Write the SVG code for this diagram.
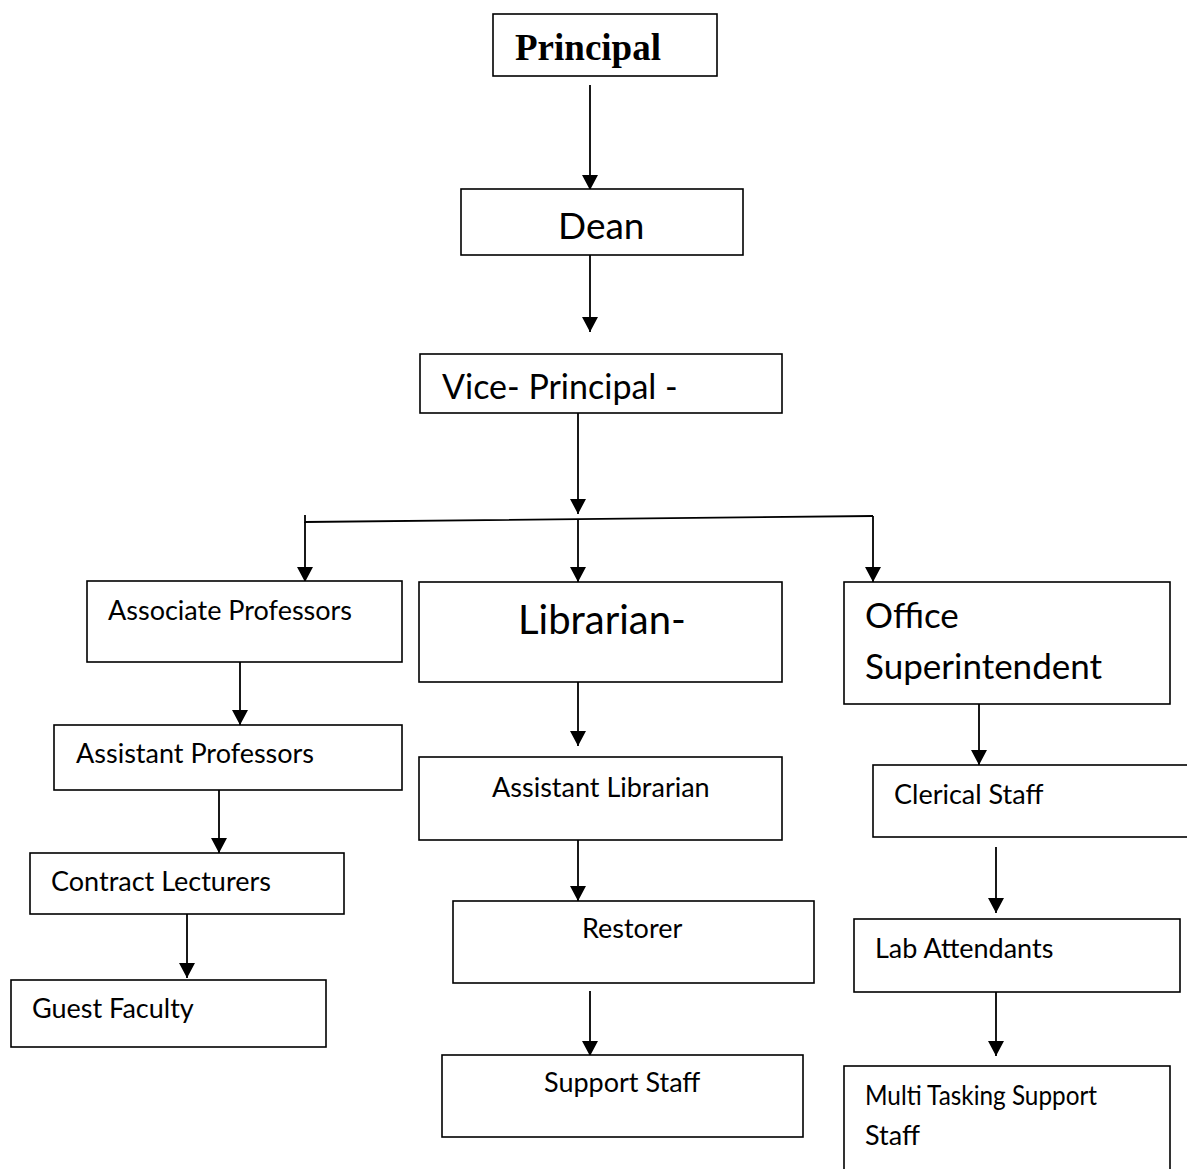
<svg xmlns="http://www.w3.org/2000/svg" width="1187" height="1169" viewBox="0 0 1187 1169">
<defs>
<style>
.box{fill:#fff;stroke:#000;stroke-width:1.6}
.t{font-family:Lato,"Open Sans","Liberation Sans",sans-serif;fill:#000;font-size:27px}
.big{font-size:37px}
.serif{font-family:"Liberation Serif","Times New Roman",serif;font-weight:bold;font-size:37px;fill:#000}
.c{fill:none;stroke:#000;stroke-width:1.8}
</style>
<marker id="ah" markerUnits="userSpaceOnUse" markerWidth="16" markerHeight="16" refX="15" refY="8" orient="auto">
<path d="M0,0 L15,8 L0,16 z" fill="#000"/>
</marker>
</defs>
<rect width="1187" height="1169" fill="#fff"/>
<g id="connectors">
<line class="c" x1="590" y1="85" x2="590" y2="190" marker-end="url(#ah)"/>
<line class="c" x1="590" y1="252" x2="590" y2="332" marker-end="url(#ah)"/>
<line class="c" x1="578" y1="413" x2="578" y2="514" marker-end="url(#ah)"/>
<polyline class="c" points="305,515 305,522 873,516"/>
<line class="c" x1="305" y1="522" x2="305" y2="582" marker-end="url(#ah)"/>
<line class="c" x1="578" y1="519" x2="578" y2="582" marker-end="url(#ah)"/>
<line class="c" x1="873" y1="516" x2="873" y2="582" marker-end="url(#ah)"/>
<line class="c" x1="240" y1="659" x2="240" y2="725" marker-end="url(#ah)"/>
<line class="c" x1="219" y1="787" x2="219" y2="853" marker-end="url(#ah)"/>
<line class="c" x1="187" y1="912" x2="187" y2="978" marker-end="url(#ah)"/>
<line class="c" x1="578" y1="680" x2="578" y2="746" marker-end="url(#ah)"/>
<line class="c" x1="578" y1="838" x2="578" y2="901" marker-end="url(#ah)"/>
<line class="c" x1="590" y1="991" x2="590" y2="1056" marker-end="url(#ah)"/>
<line class="c" x1="979" y1="699" x2="979" y2="765" marker-end="url(#ah)"/>
<line class="c" x1="996" y1="847" x2="996" y2="913" marker-end="url(#ah)"/>
<line class="c" x1="996" y1="992" x2="996" y2="1056" marker-end="url(#ah)"/>
</g>
<g id="principal"><rect class="box" x="493" y="14" width="224" height="62"/><text class="serif" x="515" y="60">Principal</text></g>
<g id="dean"><rect class="box" x="461" y="189" width="282" height="66"/><text class="t big" x="558" y="239">Dean</text></g>
<g id="vice-principal"><rect class="box" x="420" y="354" width="362" height="59"/><text class="t big" x="442" y="399" style="font-size:34px">Vice- Principal -</text></g>
<g id="associate-professors"><rect class="box" x="87" y="581" width="315" height="81"/><text class="t" x="108" y="620">Associate Professors</text></g>
<g id="assistant-professors"><rect class="box" x="54" y="725" width="348" height="65"/><text class="t" x="76" y="763">Assistant Professors</text></g>
<g id="contract-lecturers"><rect class="box" x="30" y="853" width="314" height="61"/><text class="t" x="51" y="891">Contract Lecturers</text></g>
<g id="guest-faculty"><rect class="box" x="11" y="980" width="315" height="67"/><text class="t" x="32" y="1018">Guest Faculty</text></g>
<g id="librarian"><rect class="box" x="419" y="582" width="363" height="100"/><text class="t" x="518" y="634" style="font-size:40px">Librarian-</text></g>
<g id="assistant-librarian"><rect class="box" x="419" y="757" width="363" height="83"/><text class="t" x="492" y="797">Assistant Librarian</text></g>
<g id="restorer"><rect class="box" x="453" y="901" width="361" height="82"/><text class="t" x="582" y="938">Restorer</text></g>
<g id="support-staff"><rect class="box" x="442" y="1055" width="361" height="82"/><text class="t" x="544" y="1092">Support Staff</text></g>
<g id="office-superintendent"><rect class="box" x="844" y="582" width="326" height="122"/><text class="t big" x="865" y="628" style="font-size:35px">Office</text><text class="t big" x="865" y="679" style="font-size:35px">Superintendent</text></g>
<g id="clerical-staff"><rect class="box" x="873" y="765" width="330" height="72"/><text class="t" x="894" y="804">Clerical Staff</text></g>
<g id="lab-attendants"><rect class="box" x="854" y="919" width="326" height="73"/><text class="t" x="875" y="958">Lab Attendants</text></g>
<g id="multi-tasking"><rect class="box" x="844" y="1066" width="326" height="120"/><text class="t" x="865" y="1105" textLength="232" lengthAdjust="spacingAndGlyphs">Multi Tasking Support</text><text class="t" x="865" y="1145">Staff</text></g>
</svg>
